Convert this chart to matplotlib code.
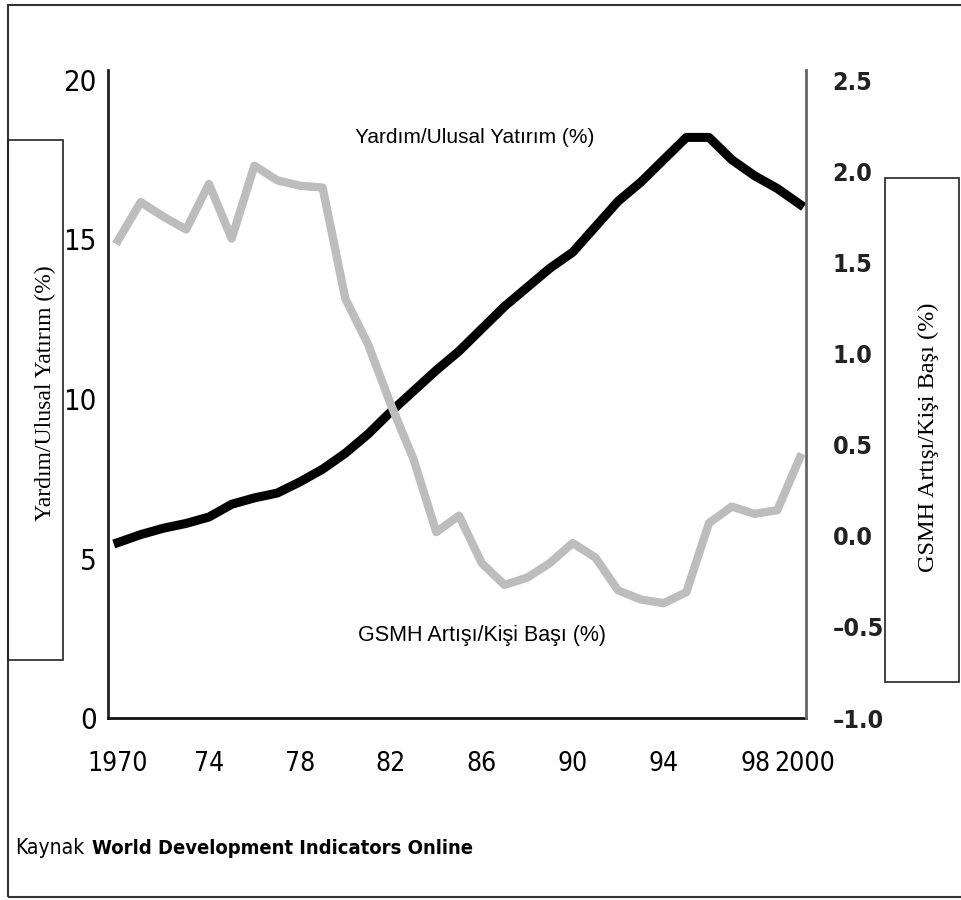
import matplotlib
matplotlib.use("Agg")
import matplotlib.pyplot as plt
import matplotlib.transforms as mtransforms
from matplotlib.patches import Rectangle
from matplotlib import font_manager

# --- Data ---
years = list(range(1970, 2001))
aid_share = [5.5, 5.75, 5.95, 6.1, 6.3, 6.7, 6.9, 7.05, 7.4, 7.8,
             8.3, 8.9, 9.6, 10.25, 10.9, 11.5, 12.2, 12.9, 13.5, 14.1,
             14.6, 15.4, 16.2, 16.8, 17.5, 18.2, 18.2, 17.5, 17.0, 16.6,
             16.1]
gnp_growth = [1.62, 1.83, 1.75, 1.68, 1.93, 1.63, 2.03, 1.95, 1.92, 1.91,
              1.30, 1.05, 0.72, 0.42, 0.02, 0.11, -0.15, -0.27, -0.23, -0.15,
              -0.04, -0.12, -0.30, -0.35, -0.37, -0.31, 0.07, 0.16, 0.12, 0.14,
              0.43]

x_ticks = [1970, 1974, 1978, 1982, 1986, 1990, 1994, 1998, 2000]
x_labels = ["1970", "74", "78", "82", "86", "90", "94", "98", "2000"]
left_ticks = [0, 5, 10, 15, 20]
right_ticks = [-1.0, -0.5, 0.0, 0.5, 1.0, 1.5, 2.0, 2.5]

left_title = "Yardım/Ulusal Yatırım (%)"
right_title = "GSMH Artışı/Kişi Başı (%)"

# --- Fonts ---
names = {f.name for f in font_manager.fontManager.ttflist}
narrow = "Liberation Sans Narrow" if "Liberation Sans Narrow" in names else "DejaVu Sans"
tick_font = dict(family=[narrow, "DejaVu Sans"], fontstretch="condensed")

W, H = 961, 900


def fx(px):
    return px / W


def fy(py):
    return 1 - py / H


fig = plt.figure(figsize=(W / 100, H / 100), dpi=100)

# outer frame (right side runs off the image)
fig.add_artist(Rectangle((fx(8), fy(897)), fx(970 - 8), (897 - 5) / H,
                         transform=fig.transFigure, fill=False,
                         edgecolor="#333333", linewidth=1.5, clip_on=False))

ax = fig.add_axes([fx(108), fy(718), fx(806 - 108), (718 - 70) / H])
ax2 = ax.twinx()

ax.plot(years, aid_share, color="black", linewidth=6.5)
ax2.plot(years, gnp_growth, color="#bdbdbd", linewidth=6.0)

ax.set_xlim(1970 - 10 / 22.73, 2000 + 6 / 22.73)
ax.set_ylim(0, 20 + 10 / 31.9)
ax2.set_ylim(-1.0, 2.5 + 0.5 * 10 / 91.1)

ax.set_xticks(x_ticks)
ax.set_xticklabels(x_labels, fontsize=19, **tick_font)
ax.set_yticks(left_ticks)
ax.set_yticklabels([str(v) for v in left_ticks], fontsize=21, **tick_font)
ax2.set_yticks(right_ticks)
ax2.set_yticklabels([f"{v:.1f}".replace("-", "\u2013") for v in right_ticks],
                    fontsize=18, fontweight="bold", color="#222222", **tick_font)

ax.tick_params(axis="x", length=0, pad=24)
ax.tick_params(axis="y", length=0, pad=8)
ax2.tick_params(axis="y", length=0, pad=19)

# "98" and "2000" sit close together, nudge them apart a little
xlabs = ax.get_xticklabels()
for lab, dx in ((xlabs[-2], 1), (xlabs[-1], 5)):
    lab.set_transform(lab.get_transform() +
                      mtransforms.ScaledTranslation(dx / 100, 0, fig.dpi_scale_trans))

for a in (ax, ax2):
    a.spines["top"].set_visible(False)
ax.spines["left"].set_linewidth(2)
ax.spines["left"].set_color("#222222")
ax.spines["bottom"].set_linewidth(2)
ax.spines["bottom"].set_color("#111111")
ax2.spines["right"].set_linewidth(2)
ax2.spines["right"].set_color("#666666")
ax2.spines["left"].set_visible(False)
ax2.spines["bottom"].set_visible(False)

# in-plot series names
ax.text(1985.7, 18.2, left_title, ha="center", va="center",
        fontsize=15, family="Liberation Sans")
ax2.text(1986.0, -0.55, right_title, ha="center", va="center",
         fontsize=15.5, family="Liberation Sans")

# axis title boxes
fig.add_artist(Rectangle((fx(8), fy(660)), fx(63 - 8), (660 - 140) / H,
                         transform=fig.transFigure, fill=False,
                         edgecolor="#222222", linewidth=1.2))
fig.text(fx(45), fy(393), left_title, rotation=90, ha="center", va="center",
         fontsize=17, family="Liberation Serif")

fig.add_artist(Rectangle((fx(885), fy(682)), fx(959 - 885), (682 - 178) / H,
                         transform=fig.transFigure, fill=False,
                         edgecolor="#222222", linewidth=1.2))
fig.text(fx(928), fy(437), right_title, rotation=90, ha="center", va="center",
         fontsize=17.5, family="Liberation Serif")

# source line
fig.text(fx(15), fy(848), "Kaynak", ha="left", va="center",
         fontsize=15, family=[narrow, "DejaVu Sans"], fontstretch="condensed")
fig.text(fx(92), fy(848), "World Development Indicators Online", ha="left",
         va="center", fontsize=14.5, fontweight="bold",
         family=[narrow, "DejaVu Sans"], fontstretch="condensed")

fig.savefig("out.png", dpi=100)
